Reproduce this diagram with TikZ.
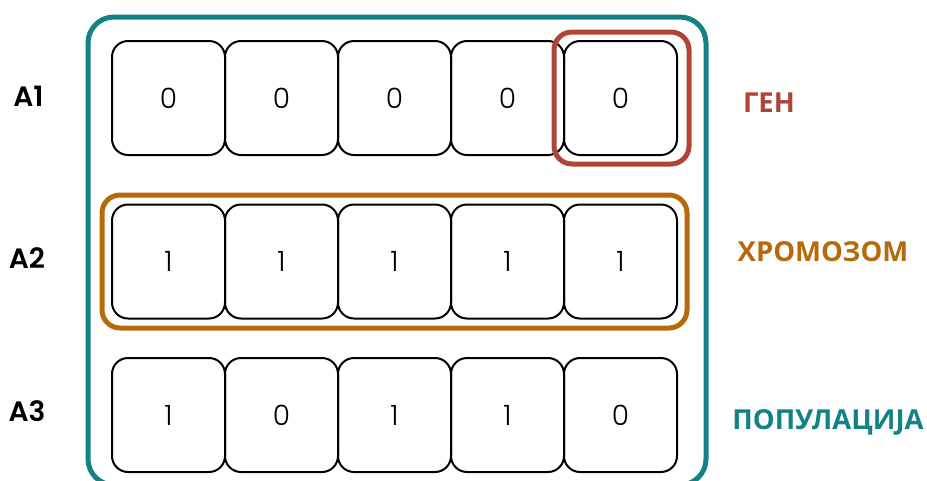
\documentclass[tikz,border=0pt]{standalone}
\usepackage{fontspec}
\usepackage{tikz}
\usetikzlibrary{positioning,fit}

\newfontfamily\digitfont{Poppins}[UprightFont=* Light]
\newfontfamily\rowfont{Poppins}[UprightFont=* SemiBold]
\newfontfamily\labelfont{Open Sans}

\definecolor{popteal}{RGB}{18,130,135}
\definecolor{genred}{RGB}{176,69,53}
\definecolor{chromorange}{RGB}{183,105,12}

\begin{document}
\begin{tikzpicture}[
x=1pt, y=-1pt,
node distance=0pt,
cell/.style={rectangle, rounded corners=16pt, draw, line width=2pt, outer sep=0pt, minimum width=113pt, minimum height=114pt, inner sep=0pt, font=\digitfont\fontsize{28}{30}\selectfont},
rowlabel/.style={font=\rowfont\fontsize{28}{30}\selectfont, anchor=center},
frame/.style={rectangle, draw, line width=5pt},
tag/.style={font=\labelfont\bfseries\fontsize{27.5}{30}\selectfont, anchor=center}
]
\useasboundingbox (0,0) rectangle (927,480);

% first individual
\node[cell] (a1c1) at (168.5,98) {0};
\node[cell, right=of a1c1] (a1c2) {0};
\node[cell, right=of a1c2] (a1c3) {0};
\node[cell, right=of a1c3] (a1c4) {0};
\node[cell, right=of a1c4] (a1c5) {0};

% second individual
\node[cell] (a2c1) at (168.5,261.5) {1};
\node[cell, right=of a2c1] (a2c2) {1};
\node[cell, right=of a2c2] (a2c3) {1};
\node[cell, right=of a2c3] (a2c4) {1};
\node[cell, right=of a2c4] (a2c5) {1};

% third individual
\node[cell] (a3c1) at (168.5,415) {1};
\node[cell, right=of a3c1] (a3c2) {0};
\node[cell, right=of a3c2] (a3c3) {1};
\node[cell, right=of a3c3] (a3c4) {1};
\node[cell, right=of a3c4] (a3c5) {0};

% groupings
\node[frame, draw=genred, rounded corners=18pt, fit=(a1c5), inner xsep=11pt, inner ysep=9pt, xshift=1pt] (gen) {};
\node[frame, draw=chromorange, rounded corners=18pt, fit=(a2c1)(a2c5), inner xsep=10pt, inner ysep=9.5pt] (chrom) {};
\node[frame, draw=popteal, rounded corners=26pt, fit=(a1c1)(a3c5), inner xsep=26.5pt, inner ysep=18.5pt, xshift=2.5pt, yshift=5.5pt] (pop) {};

\node[rowlabel] (a1) at (28.5,96) {A1};
\node[rowlabel] (a2) at (27,258.5) {A2};
\node[rowlabel] (a3) at (27,411) {A3};

\node[tag, text=genred] (gentag) at (769,103) {ГЕН};
\node[tag, text=chromorange] (chromtag) at (823,252) {ХРОМОЗОМ};
\node[tag, text=popteal] (poptag) at (828,422) {ПОПУЛАЦИЈА};
\end{tikzpicture}
\end{document}
